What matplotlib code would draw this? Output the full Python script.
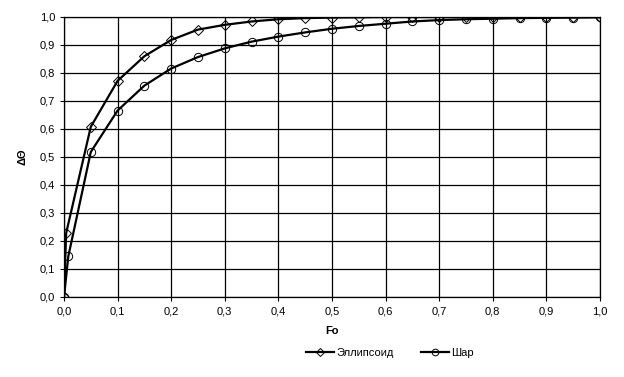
import matplotlib
matplotlib.use("Agg")
import matplotlib.pyplot as plt
from matplotlib.ticker import FuncFormatter

# Fo values and relative temperature for each body
FO_ELL = [0, 0.004, 0.05, 0.10, 0.15, 0.20, 0.25, 0.30, 0.35, 0.40, 0.45, 0.50,
          0.55, 0.60, 0.65, 0.70, 0.75, 0.80, 0.85, 0.90, 0.95, 1.00]
ELLIPSOID = [0, 0.228, 0.608, 0.772, 0.860, 0.918, 0.955, 0.972, 0.984, 0.992, 0.996, 0.998,
             0.999, 1.0, 1.0, 1.0, 1.0, 1.0, 1.0, 1.0, 1.0, 1.0]
FO_SPH = [0, 0.008, 0.05, 0.10, 0.15, 0.20, 0.25, 0.30, 0.35, 0.40, 0.45, 0.50,
          0.55, 0.60, 0.65, 0.70, 0.75, 0.80, 0.85, 0.90, 0.95, 1.00]
SPHERE = [0, 0.145, 0.518, 0.666, 0.755, 0.816, 0.857, 0.888, 0.912, 0.930, 0.945, 0.958,
          0.968, 0.976, 0.984, 0.989, 0.992, 0.994, 0.996, 0.997, 0.998, 0.999]

plt.rcParams["font.family"] = ["Liberation Sans", "DejaVu Sans"]

fig = plt.figure(figsize=(6.24, 3.77), dpi=100)
ax = fig.add_axes([64/624, 1 - 297/377, 536/624, 280/377])

ax.plot(FO_ELL, ELLIPSOID, color="black", lw=1.6, marker="D", ms=5,
        mfc="none", mec="black", mew=0.7, label="Эллипсоид")
ax.plot(FO_SPH, SPHERE, color="black", lw=1.6, marker="o", ms=6,
        mfc="none", mec="black", mew=0.7, label="Шар")

ax.set_xlim(0, 1)
ax.set_ylim(0, 1)
ax.set_xticks([i / 10 for i in range(11)])
ax.set_yticks([i / 10 for i in range(11)])
fmt = FuncFormatter(lambda v, p: f"{v:.1f}".replace(".", ","))
ax.xaxis.set_major_formatter(fmt)
ax.yaxis.set_major_formatter(fmt)
ax.tick_params(labelsize=8, length=3, width=0.8, direction="out", colors="black")
ax.grid(True, color="black", lw=0.9)
for s in ax.spines.values():
    s.set_color("black"); s.set_linewidth(0.9)

ax.set_xlabel("Fo", fontsize=8, fontweight="bold", labelpad=7)
ax.set_ylabel("ΔΘ", fontsize=8, fontweight="bold", labelpad=9)

fig.legend(loc="center", bbox_to_anchor=(390/624, 1 - 353/377), ncol=2, frameon=False,
           fontsize=8, handlelength=2.5, columnspacing=2.5, handletextpad=0.2,
           markerscale=0.8)

fig.savefig("out.png", dpi=100)
